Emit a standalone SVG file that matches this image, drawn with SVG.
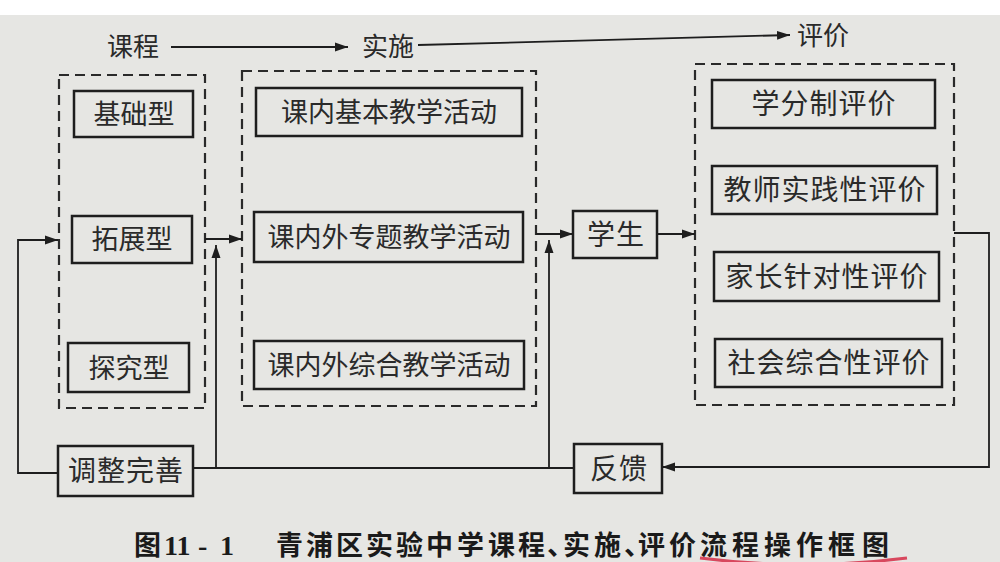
<svg xmlns="http://www.w3.org/2000/svg" width="1000" height="562" viewBox="0 0 1000 562">
<style>
.bg{fill:#e6e6e3}
.box{fill:none;stroke:#1e1e1e;stroke-width:2.5}
.dash{fill:none;stroke:#2a2a2a;stroke-width:2.2;stroke-dasharray:10 6}
.ln{fill:none;stroke:#1e1e1e;stroke-width:1.8}
.t{font-family:"Noto Sans CJK SC","Noto Sans",sans-serif;font-size:27px;fill:#2a2a2a;text-anchor:middle}
.te{font-family:"Noto Sans CJK SC","Noto Sans",sans-serif;font-size:28px;fill:#2a2a2a;text-anchor:middle;letter-spacing:1px}
.h{font-family:"Noto Sans CJK SC","Noto Sans",sans-serif;font-size:26px;fill:#2a2a2a}
.cap{font-family:"Noto Sans CJK SC","Noto Sans",sans-serif;font-size:27px;font-weight:700;fill:#1a1a1a}
.num{font-family:"Liberation Serif",serif;font-size:28px;font-weight:700;fill:#1a1a1a}
</style>
<defs>
<marker id="ah" markerUnits="userSpaceOnUse" markerWidth="14" markerHeight="10" refX="13" refY="5" orient="auto">
<path d="M0,0.5 L13,5 L0,9.5 z" fill="#1e1e1e"/>
</marker>
</defs>
<rect class="bg" x="0" y="0" width="1000" height="562"/>
<rect x="0" y="0" width="1000" height="15" fill="#ffffff"/>

<g id="header">
<text class="h" x="107" y="56">课程</text>
<text class="h" x="362" y="56">实施</text>
<text class="h" x="797" y="45">评价</text>
</g>

<g id="group-course">
<rect class="dash" x="59" y="75" width="146" height="333"/>
</g>
<g id="group-impl">
<rect class="dash" x="242" y="71" width="294" height="335"/>
</g>
<g id="group-eval">
<rect class="dash" x="695" y="64" width="259" height="341"/>
</g>

<g id="n-jichu"><rect class="box" x="74" y="91" width="119" height="46"/><text class="t" x="134" y="124">基础型</text></g>
<g id="n-tuozhan"><rect class="box" x="72" y="216" width="120" height="47"/><text class="t" x="132" y="249">拓展型</text></g>
<g id="n-tanjiu"><rect class="box" x="68" y="343" width="121" height="49"/><text class="t" x="129" y="378">探究型</text></g>

<g id="n-jiben"><rect class="box" x="256" y="88" width="266" height="48"/><text class="t" x="389" y="122">课内基本教学活动</text></g>
<g id="n-zhuanti"><rect class="box" x="254" y="212" width="269" height="50"/><text class="t" x="389" y="247">课内外专题教学活动</text></g>
<g id="n-zonghe"><rect class="box" x="254" y="341" width="270" height="48"/><text class="t" x="389" y="375">课内外综合教学活动</text></g>

<g id="n-xuesheng"><rect class="box" x="573" y="211" width="84" height="47"/><text class="te" x="616" y="245">学生</text></g>

<g id="n-xuefen"><rect class="box" x="712" y="80" width="223" height="48"/><text class="te" x="824" y="114">学分制评价</text></g>
<g id="n-jiaoshi"><rect class="box" x="712" y="166" width="225" height="48"/><text class="te" x="825" y="200">教师实践性评价</text></g>
<g id="n-jiazhang"><rect class="box" x="714" y="252" width="225" height="49"/><text class="te" x="827" y="287">家长针对性评价</text></g>
<g id="n-shehui"><rect class="box" x="715" y="339" width="227" height="48"/><text class="te" x="829" y="373">社会综合性评价</text></g>

<g id="n-tiaozheng"><rect class="box" x="58" y="446" width="135" height="50"/><text class="te" x="126" y="481">调整完善</text></g>
<g id="n-fankui"><rect class="box" x="574" y="444" width="88" height="49"/><text class="te" x="619" y="479">反馈</text></g>

<g id="connectors">
<path class="ln" d="M171,47 H348" marker-end="url(#ah)"/>
<path class="ln" d="M418,45 L790,35" marker-end="url(#ah)"/>
<path class="ln" d="M58,473 H18 V240 H58" marker-end="url(#ah)"/>
<path class="ln" d="M205,239 H242" marker-end="url(#ah)"/>
<path class="ln" d="M216,469 V245" marker-end="url(#ah)"/>
<path class="ln" d="M536,234 H573" marker-end="url(#ah)"/>
<path class="ln" d="M549,468 V240" marker-end="url(#ah)"/>
<path class="ln" d="M657,234 H695" marker-end="url(#ah)"/>
<path class="ln" d="M954,233 H989 V467 H662" marker-end="url(#ah)"/>
<path class="ln" d="M574,468 H193"/>
</g>

<g id="caption">
<text class="cap" x="134" y="555">图</text>
<text class="num" y="555"><tspan x="164">11</tspan><tspan x="198">-</tspan><tspan x="220">1</tspan></text>
<text class="cap" y="555" x="276 306 336 366 396 426 457 488 518 547 563 594 624 638 669 700 732 764 796 828 862">青浦区实验中学课程、实施、评价流程操作框图</text>
</g>
<path d="M700,558 Q803,571 907,558" fill="none" stroke="#d8485e" stroke-width="3"/>
</svg>
